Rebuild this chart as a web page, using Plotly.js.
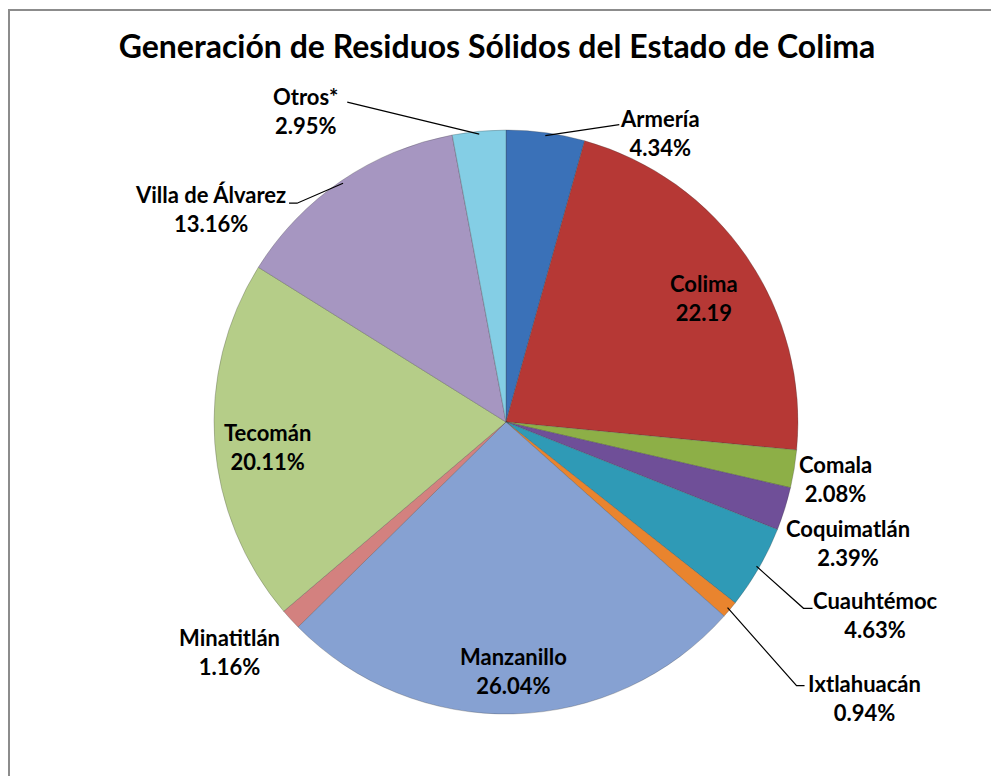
<!DOCTYPE html>
<html>
<head>
<meta charset="utf-8">
<script src="https://cdn.plot.ly/plotly-3.0.1.min.js"></script>
<style>html,body{margin:0;padding:0;background:#fff;}#chart{width:991px;height:776px;}</style>
</head>
<body>
<div id="chart"></div>
<script>
// ---- data ----
var municipios = ["Armería", "Colima", "Comala", "Coquimatlán", "Cuauhtémoc", "Ixtlahuacán",
                  "Manzanillo", "Minatitlán", "Tecomán", "Villa de Álvarez", "Otros*"];
var porcentajes = [4.34, 22.19, 2.08, 2.39, 4.63, 0.94, 26.04, 1.16, 20.11, 13.16, 2.95];
var sufijos = ["%", "", "%", "%", "%", "%", "%", "%", "%", "%", "%"];
var titulo = "Generación de Residuos Sólidos del Estado de Colima";

// ---- styles ----
var colores = ["#3A71B8", "#B63835", "#8DAF47", "#6F4F98", "#2F9AB6", "#E9842E",
               "#86A1D2", "#D3817F", "#B5CD88", "#A696C1", "#84CEE5"];
var W = 991, H = 776;
var cx = 506, cy = 422, R = 292;
var fontFam = "Lato, 'DejaVu Sans', sans-serif";
// label offset (px) from slice mid-angle edge point
var labelOffset = [[115, -3], [-40, 39], [44, 10], [66, 35], [119, 49], [137, 90],
                   [0, -40], [-63, 35], [50, 4], [-133, 26], [-174, -23]];
// leader line: null or [attach dx, attach dy, horizontal stub] relative to label center
var leader = [[-41, -8, 0], null, null, null, [-63, -7, 9], [-60, -12, 8],
              null, null, null, [79, -6, 8], [42, -9, 0]];

function px(x) { return x / W; }
function py(y) { return 1 - y / H; }

var total = porcentajes.reduce(function (a, b) { return a + b; }, 0);
var annotations = [], shapes = [];
var cum = 0;
porcentajes.forEach(function (v, i) {
  var mid = (cum + v / 2) / total * 2 * Math.PI;
  cum += v;
  var ex = cx + R * 0.99 * Math.sin(mid);
  var ey = cy - R * 0.99 * Math.cos(mid);
  var lx = ex + labelOffset[i][0];
  var ly = ey + labelOffset[i][1];
  annotations.push({
    xref: "paper", yref: "paper", x: px(lx), y: py(ly),
    xanchor: "center", yanchor: "middle", showarrow: false, align: "center",
    text: municipios[i] + "<br>" + v.toFixed(2) + sufijos[i],
    font: {family: fontFam, size: 22, color: "#000", weight: 700}
  });
  if (leader[i]) {
    var ax = lx + leader[i][0], ay = ly + leader[i][1];
    var bx = ax + (leader[i][0] < 0 ? -leader[i][2] : leader[i][2]);
    var path = "M " + px(ex) + " " + py(ey) + " L " + px(bx) + " " + py(ay) + " L " + px(ax) + " " + py(ay);
    shapes.push({type: "path", xref: "paper", yref: "paper", path: path,
                 line: {color: "#000", width: 1.2}});
  }
});

// chart frame
shapes.push({type: "rect", xref: "paper", yref: "paper", x0: px(9), x1: px(1000), y0: py(10), y1: py(790),
             line: {color: "#8c8c8c", width: 2}, layer: "below"});

var trace = {
  type: "pie",
  labels: municipios,
  values: porcentajes,
  sort: false,
  direction: "clockwise",
  rotation: 0,
  textinfo: "none",
  hoverinfo: "label+value",
  marker: {colors: colores, line: {color: "rgba(60,60,60,0.35)", width: 0.8}},
  domain: {x: [px(cx - R), px(cx + R)], y: [py(cy + R), py(cy - R)]},
  showlegend: false
};

var layout = {
  width: W, height: H,
  margin: {l: 0, r: 0, t: 0, b: 0},
  paper_bgcolor: "#fff",
  title: {
    text: titulo, x: 497 / W, xanchor: "center", y: py(47), yref: "container", yanchor: "middle",
    font: {family: fontFam, size: 32, color: "#000", weight: 700}
  },
  annotations: annotations,
  shapes: shapes,
  showlegend: false
};

Plotly.newPlot("chart", [trace], layout, {displayModeBar: false, staticPlot: true});
</script>
</body>
</html>
